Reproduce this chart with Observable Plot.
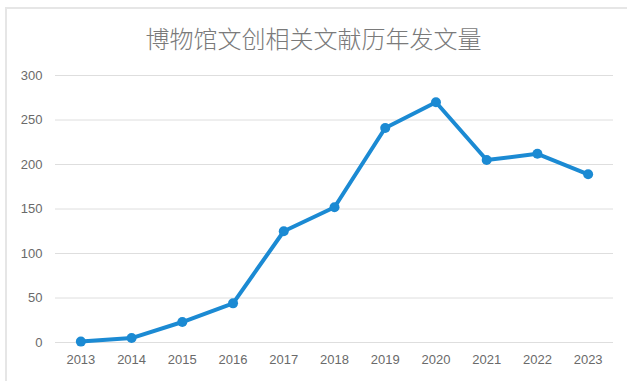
<!DOCTYPE html>
<html><head><meta charset="utf-8">
<script src="https://cdn.jsdelivr.net/npm/d3@7"></script>
<script src="https://cdn.jsdelivr.net/npm/@observablehq/plot@0.6"></script>
<style>
body{margin:0;background:#fff;width:627px;height:381px;overflow:hidden;position:relative;font-family:"Noto Sans CJK SC","Noto Sans",sans-serif;}
#frame{position:absolute;left:5px;top:7px;width:640px;height:400px;border:2px solid #e6e6e6;box-sizing:border-box;pointer-events:none;}
#title{position:absolute;left:0;top:0;width:627px;height:60px;text-align:center;line-height:76px;font-size:24px;font-weight:300;color:#7a7a7a;}
#chart{position:absolute;left:0;top:60px;}
</style></head><body>
<div id="frame"></div>
<div id="title">博物馆文创相关文献历年发文量</div>
<div id="chart"></div>
<script>
const years = [2013,2014,2015,2016,2017,2018,2019,2020,2021,2022,2023];
const counts = [1,5,23,44,125,152,241,270,205,212,189];
const yTicks = [0,50,100,150,200,250,300];
const data = years.map((y,i)=>({year:y,count:counts[i]}));
const chart = Plot.plot({
  width:627, height:321,
  marginTop:15, marginBottom:39, marginLeft:55, marginRight:14,
  style:{fontFamily:"Liberation Sans, Arial, sans-serif", fontSize:"13px", color:"#6a6a6a", background:"transparent"},
  x:{domain:[2012.5,2023.5]},
  y:{domain:[0,300]},
  marks:[
    Plot.ruleY(yTicks,{stroke:"#dedede",strokeWidth:1}),
    Plot.axisY({ticks:yTicks, tickSize:0, tickPadding:13, label:null, fontSize:13}),
    Plot.axisX({ticks:years, tickFormat:"d", tickSize:0, tickPadding:12, label:null, fontSize:13}),
    Plot.line(data,{x:"year",y:"count",stroke:"#1b8ad3",strokeWidth:4,strokeLinejoin:"round"}),
    Plot.dot(data,{x:"year",y:"count",fill:"#1b8ad3",r:5})
  ]
});
document.getElementById("chart").appendChild(chart);
</script>
</body></html>
